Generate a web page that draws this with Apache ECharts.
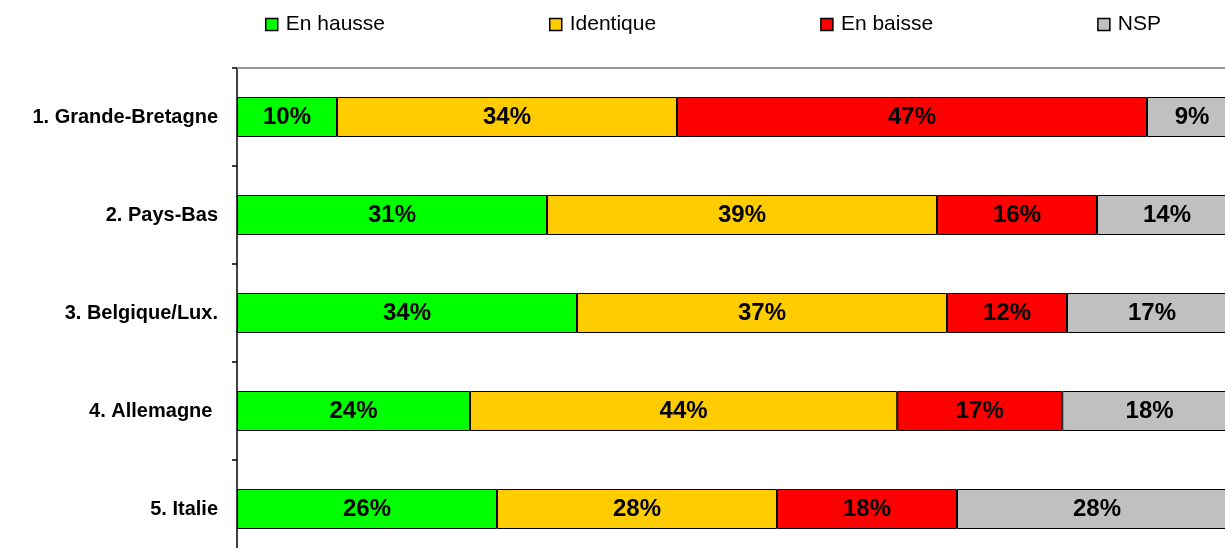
<!DOCTYPE html>
<html style="height: 100%">
<head>
<meta charset="utf-8">
<title>Evolution par pays</title>
<script src="https://cdn.jsdelivr.net/npm/echarts@6/dist/echarts.min.js"></script>
</head>
<body style="height: 100%; margin: 0; background: #fff">
<div id="container" style="width: 1225px; height: 548px"></div>
<script type="text/javascript">
var countries = ['1. Grande-Bretagne', '2. Pays-Bas', '3. Belgique/Lux.', '4. Allemagne ', '5. Italie'];
var seriesNames = ['En hausse', 'Identique', 'En baisse', 'NSP'];
var hausse = [10, 31, 34, 24, 26];
var identique = [34, 39, 37, 44, 28];
var baisse = [47, 16, 12, 17, 18];
var nsp = [9, 14, 17, 18, 28];
var colors = ['#00ff00', '#ffcc00', '#ff0000', '#c0c0c0'];

var raw = [hausse, identique, baisse, nsp];
// 100% stacked: each row is scaled to its own total
var totals = countries.map(function (c, i) {
    return hausse[i] + identique[i] + baisse[i] + nsp[i];
});

var font = "'Liberation Sans', Arial, sans-serif";
var myChart = echarts.init(document.getElementById('container'));

var series = raw.map(function (vals, k) {
    return {
        name: seriesNames[k],
        type: 'bar',
        stack: 'total',
        barWidth: 40,
        data: vals.map(function (v, i) {
            return v / totals[i] * 100;
        }),
        itemStyle: { color: colors[k], borderColor: '#000', borderWidth: 1 },
        label: {
            show: true,
            position: 'inside',
            color: '#000',
            fontWeight: 'bold',
            fontSize: 24,
            fontFamily: font,
            formatter: function (p) { return vals[p.dataIndex] + '%'; }
        },
        emphasis: { disabled: true },
        animation: false
    };
});

var option = {
    backgroundColor: '#fff',
    animation: false,
    legend: {
        left: 265,
        top: 14,
        padding: 0,
        itemGap: 164,
        itemWidth: 12,
        itemHeight: 12,
        icon: 'rect',
        data: seriesNames,
        itemStyle: { borderColor: '#000', borderWidth: 1.5 },
        textStyle: { fontSize: 21, fontFamily: font, color: '#000', padding: [0, 0, 0, 3] }
    },
    grid: {
        left: 237,
        right: -12,
        top: 68,
        bottom: -10,
        outerBoundsMode: 'none'
    },
    xAxis: {
        type: 'value',
        position: 'top',
        min: 0,
        max: 100,
        axisLine: { show: true, lineStyle: { color: '#999', width: 2 } },
        axisTick: { show: false },
        axisLabel: { show: false },
        splitLine: { show: false }
    },
    yAxis: {
        type: 'category',
        inverse: true,
        data: countries,
        axisLine: { show: true, lineStyle: { color: '#000', width: 1.5 } },
        axisTick: { show: true, length: 5, lineStyle: { color: '#000', width: 1.5 } },
        axisLabel: {
            margin: 19,
            color: '#000',
            fontSize: 20,
            fontWeight: 'bold',
            fontFamily: font
        }
    },
    series: series
};
myChart.setOption(option);
</script>
</body>
</html>
